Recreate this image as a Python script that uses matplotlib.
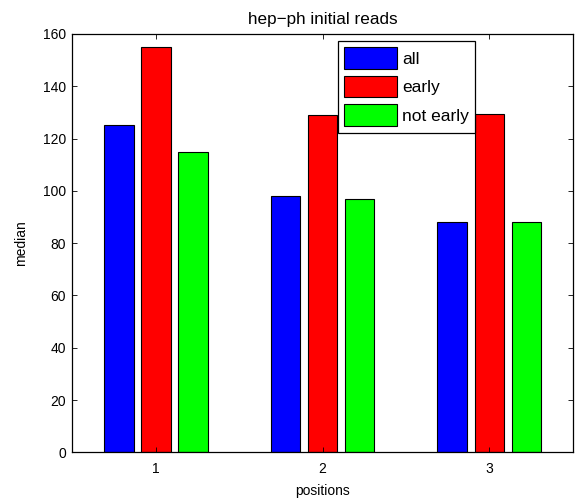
import numpy as np
import matplotlib
matplotlib.use('Agg')
import matplotlib.pyplot as plt

#------------------------------------------------------------------------------
# Data
#------------------------------------------------------------------------------
positions = [1, 2, 3]
series_names = ['all', 'early', 'not early']
all_vals = [125, 98, 88]
early_vals = [155, 129, 129.3]
not_early_vals = [115, 97, 88]
colors = ['#0000ff', '#ff0000', '#00ff00']

plt.rcParams['font.family'] = ['Liberation Sans', 'DejaVu Sans']
plt.rcParams['font.size'] = 10

#------------------------------------------------------------------------------
# Plot
#------------------------------------------------------------------------------
fig = plt.figure(figsize=(5.79, 5.01), dpi=100)
ax = fig.add_axes([0.1252, 0.0972, 0.8639, 0.835])

x = np.array(positions, dtype=float)
step = 2.0 / 9.0  # MATLAB grouped bar spacing for 3 series
width = step * 0.8
for i, (vals, name) in enumerate(zip([all_vals, early_vals, not_early_vals], series_names)):
    ax.bar(x + (i - 1) * step, vals, width, color=colors[i], edgecolor='black',
           linewidth=0.8, label=name)

ax.set_xlim(0.5, 3.5)
ax.set_ylim(0, 160)
ax.set_xticks(positions)
ax.set_yticks(np.arange(0, 161, 20))
ax.tick_params(direction='in', length=3.6, width=0.6, top=True, right=True)
ax.tick_params(axis='x', pad=7)
ax.tick_params(axis='y', pad=4.5)
for s in ax.spines.values():
    s.set_linewidth(0.9)

ax.set_xlabel('positions', labelpad=6)
ax.set_ylabel('median', labelpad=11)
ax.set_title('hep\u2212ph initial reads', pad=7, fontsize=12.3)

leg = ax.legend(loc='upper left', bbox_to_anchor=(0.530, 0.984), fancybox=False,
                framealpha=1, edgecolor='black', fontsize=12.5,
                handlelength=3.05, handleheight=1.54, labelspacing=0.40,
                handletextpad=0.28, borderpad=0.38, borderaxespad=0)
leg.get_frame().set_linewidth(0.9)

fig.savefig('out.png', dpi=100)
